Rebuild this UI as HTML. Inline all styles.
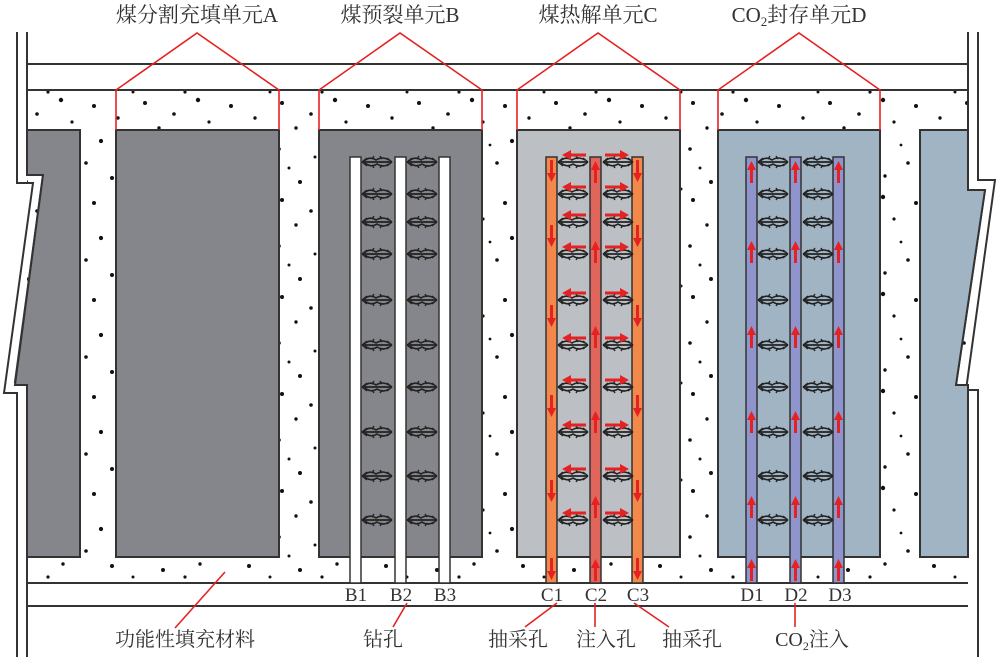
<!DOCTYPE html>
<html><head><meta charset="utf-8"><style>
html,body{margin:0;padding:0;background:#fff}
svg{display:block}
text{font-family:"Liberation Serif","Noto Serif CJK SC","Noto Sans CJK SC",serif;fill:#333}
</style></head><body>
<svg width="1000" height="657" viewBox="0 0 1000 657" xmlns="http://www.w3.org/2000/svg">
<defs>
<pattern id="dots" x="0" y="0" width="137" height="97" patternUnits="userSpaceOnUse">
<g fill="#111">
<circle cx="8" cy="6" r="2"/><circle cx="37" cy="17" r="1.8"/><circle cx="61" cy="3" r="2.2"/>
<circle cx="22" cy="31" r="1.7"/><circle cx="52" cy="38" r="2"/><circle cx="72" cy="25" r="1.6"/>
<circle cx="5" cy="52" r="1.8"/><circle cx="41" cy="60" r="1.5"/><circle cx="94" cy="9" r="2"/>
<circle cx="118" cy="21" r="1.7"/><circle cx="101" cy="44" r="2.1"/><circle cx="128" cy="55" r="1.6"/>
<circle cx="86" cy="66" r="1.8"/><circle cx="112" cy="81" r="2"/><circle cx="63" cy="79" r="1.7"/>
<circle cx="26" cy="85" r="2"/><circle cx="133" cy="92" r="1.5"/><circle cx="79" cy="48" r="1.4"/>
<circle cx="15" cy="71" r="1.5"/><circle cx="48" cy="92" r="1.6"/>
</g>
</pattern>
<g id="crk">
<path d="M0 0 H30" stroke="#222" stroke-width="1.8" fill="none"/>
<path d="M2 -1 q6 -5 12 -1 q6 -4 13 0 M3 1 q6 5 12 1 q6 4 12 0" stroke="#222" stroke-width="1.6" fill="none"/>
<path d="M0 0 l5 -4 M0 0 l5 4 M30 0 l-5 -4 M30 0 l-5 4 M10 -3 l2 -3 M20 -3 l-2 -3 M10 3 l2 3 M20 3 l-2 3" stroke="#222" stroke-width="1.4"/>
</g>
<g id="al"><path d="M0 0 H-16" stroke="#e52222" stroke-width="3"/><path d="M-24 0 l9 -5 v10z" fill="#e52222"/></g>
<g id="ar"><path d="M0 0 H16" stroke="#e52222" stroke-width="3"/><path d="M24 0 l-9 -5 v10z" fill="#e52222"/></g>
<g id="ad"><path d="M0 0 V14" stroke="#e52222" stroke-width="3"/><path d="M0 22 l-4.5 -9 h9z" fill="#e52222"/></g>
<g id="au"><path d="M0 0 V-14" stroke="#e52222" stroke-width="3"/><path d="M0 -22 l-4.5 9 h9z" fill="#e52222"/></g>
</defs>

<rect x="27" y="90" width="941" height="493" fill="url(#dots)"/>
<line x1="27" y1="64" x2="968" y2="64" stroke="#333" stroke-width="2"/>
<line x1="27" y1="90" x2="968" y2="90" stroke="#333" stroke-width="2"/>
<line x1="27" y1="583" x2="968" y2="583" stroke="#333" stroke-width="2"/>
<line x1="27" y1="606" x2="968" y2="606" stroke="#333" stroke-width="2"/>

<path d="M17 32 V183 H33 L4 393 H17 V657" fill="none" stroke="#333" stroke-width="2"/>
<path d="M27 32 V175 H43 L15 382 H27 V657" fill="none" stroke="#333" stroke-width="2"/>
<path d="M27 130 H80 V557 H27 V385 H15 L43 175 H27Z" fill="#84868b" stroke="#333" stroke-width="2"/>
<path d="M978 32 V180 H995 L966 390 H978 V657" fill="none" stroke="#333" stroke-width="2"/>
<path d="M968 32 V190 H985 L956 385 H968 V557 H920 V130 H968" fill="none" stroke="#333" stroke-width="2"/>
<path d="M920 130 H968 V190 H985 L956 385 H968 V557 H920Z" fill="#a0b4c4" stroke="#333" stroke-width="2"/>

<rect x="116" y="130" width="163" height="427" fill="#84868b" stroke="#333" stroke-width="2"/>
<rect x="319" y="130" width="163" height="427" fill="#84868b" stroke="#333" stroke-width="2"/>
<rect x="517" y="130" width="163" height="427" fill="#bcbfc4" stroke="#333" stroke-width="2"/>
<rect x="718" y="130" width="162" height="427" fill="#a0b4c4" stroke="#333" stroke-width="2"/>

<g stroke="#333" stroke-width="1.5" fill="#fff">
<rect x="350" y="157" width="11" height="426"/><rect x="395" y="157" width="11" height="426"/><rect x="439" y="157" width="11" height="426"/>
</g>
<g stroke="#333" stroke-width="1.5">
<rect x="546" y="157" width="11" height="426" fill="#f2884a"/><rect x="590" y="157" width="11" height="426" fill="#e0655a"/><rect x="632" y="157" width="11" height="426" fill="#f2884a"/>
</g>
<g stroke="#333" stroke-width="1.5" fill="#8f95cc">
<rect x="746" y="157" width="11" height="426"/><rect x="790" y="157" width="11" height="426"/><rect x="833" y="157" width="11" height="426"/>
</g>

<g id="rows">
<use href="#crk" x="362" y="162"/><use href="#crk" x="407" y="162"/>
<use href="#crk" x="362" y="194"/><use href="#crk" x="407" y="194"/>
<use href="#crk" x="362" y="222"/><use href="#crk" x="407" y="222"/>
<use href="#crk" x="362" y="254"/><use href="#crk" x="407" y="254"/>
<use href="#crk" x="362" y="300"/><use href="#crk" x="407" y="300"/>
<use href="#crk" x="362" y="345"/><use href="#crk" x="407" y="345"/>
<use href="#crk" x="362" y="387"/><use href="#crk" x="407" y="387"/>
<use href="#crk" x="362" y="432"/><use href="#crk" x="407" y="432"/>
<use href="#crk" x="362" y="476"/><use href="#crk" x="407" y="476"/>
<use href="#crk" x="362" y="520"/><use href="#crk" x="407" y="520"/>
</g>
<use href="#rows" x="196" y="0"/>
<use href="#rows" x="396" y="0"/>

<g>
<use href="#al" x="586" y="155"/><use href="#ar" x="605" y="155"/>
<use href="#al" x="586" y="187"/><use href="#ar" x="605" y="187"/>
<use href="#al" x="586" y="215"/><use href="#ar" x="605" y="215"/>
<use href="#al" x="586" y="247"/><use href="#ar" x="605" y="247"/>
<use href="#al" x="586" y="293"/><use href="#ar" x="605" y="293"/>
<use href="#al" x="586" y="338"/><use href="#ar" x="605" y="338"/>
<use href="#al" x="586" y="380"/><use href="#ar" x="605" y="380"/>
<use href="#al" x="586" y="425"/><use href="#ar" x="605" y="425"/>
<use href="#al" x="586" y="469"/><use href="#ar" x="605" y="469"/>
<use href="#al" x="586" y="513"/><use href="#ar" x="605" y="513"/>
</g>
<g>
<use href="#ad" x="551.5" y="160"/><use href="#ad" x="551.5" y="225"/><use href="#ad" x="551.5" y="305"/><use href="#ad" x="551.5" y="395"/><use href="#ad" x="551.5" y="480"/><use href="#ad" x="551.5" y="558"/>
<use href="#ad" x="637.5" y="160"/><use href="#ad" x="637.5" y="225"/><use href="#ad" x="637.5" y="305"/><use href="#ad" x="637.5" y="395"/><use href="#ad" x="637.5" y="480"/><use href="#ad" x="637.5" y="558"/>
<use href="#au" x="595.5" y="183"/><use href="#au" x="595.5" y="263"/><use href="#au" x="595.5" y="348"/><use href="#au" x="595.5" y="433"/><use href="#au" x="595.5" y="518"/><use href="#au" x="595.5" y="581"/>
<use href="#au" x="751.5" y="183"/><use href="#au" x="751.5" y="263"/><use href="#au" x="751.5" y="348"/><use href="#au" x="751.5" y="433"/><use href="#au" x="751.5" y="518"/><use href="#au" x="751.5" y="581"/>
<use href="#au" x="795.5" y="183"/><use href="#au" x="795.5" y="263"/><use href="#au" x="795.5" y="348"/><use href="#au" x="795.5" y="433"/><use href="#au" x="795.5" y="518"/><use href="#au" x="795.5" y="581"/>
<use href="#au" x="838.5" y="183"/><use href="#au" x="838.5" y="263"/><use href="#au" x="838.5" y="348"/><use href="#au" x="838.5" y="433"/><use href="#au" x="838.5" y="518"/><use href="#au" x="838.5" y="581"/>
</g>

<g fill="none" stroke="#e52222" stroke-width="1.6">
<path d="M116 130 V90 L197 33 L279 90 V130"/>
<path d="M319 130 V90 L400 33 L482 90 V130"/>
<path d="M517 130 V90 L598 33 L680 90 V130"/>
<path d="M718 130 V90 L799 33 L880 90 V130"/>
<path d="M225 572 L175 628"/>
<path d="M407 603 L393 627"/>
<path d="M557 603 L525 627"/>
<path d="M595 603 V627"/>
<path d="M634 603 L669 627"/>
<path d="M795 603 V627"/>
</g>

<g font-size="21">
<text x="197" y="22" text-anchor="middle">煤分割充填单元A</text>
<text x="400" y="22" text-anchor="middle">煤预裂单元B</text>
<text x="598" y="22" text-anchor="middle">煤热解单元C</text>
<text x="799" y="22" text-anchor="middle">CO<tspan font-size="13" dy="4">2</tspan><tspan dy="-4">封存单元D</tspan></text>
</g>
<g font-size="19" text-anchor="middle">
<text x="356" y="601">B1</text><text x="401" y="601">B2</text><text x="445" y="601">B3</text>
<text x="552" y="601">C1</text><text x="596" y="601">C2</text><text x="638" y="601">C3</text>
<text x="752" y="601">D1</text><text x="796" y="601">D2</text><text x="840" y="601">D3</text>
</g>
<g font-size="20" text-anchor="middle">
<text x="185" y="646">功能性填充材料</text>
<text x="383" y="646">钻孔</text>
<text x="518" y="646">抽采孔</text>
<text x="606" y="646">注入孔</text>
<text x="692" y="646">抽采孔</text>
<text x="812" y="646">CO<tspan font-size="12" dy="4">2</tspan><tspan dy="-4">注入</tspan></text>
</g>
</svg>
</body></html>
